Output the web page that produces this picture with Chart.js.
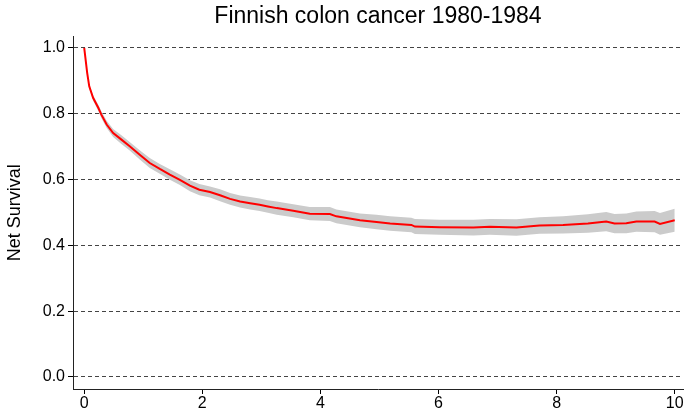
<!DOCTYPE html>
<html>
<head>
<meta charset="utf-8">
<script src="https://cdn.jsdelivr.net/npm/chart.js@4.4.1/dist/chart.umd.min.js"></script>
<style>
  html, body { margin: 0; padding: 0; background: #fff; }
  #wrap { width: 685px; height: 411px; }
</style>
</head>
<body>
<div id="wrap"><canvas id="c" width="685" height="411"></canvas></div>
<script>
// Data
const timeYears = [0, 0.05, 0.085, 0.15, 0.24, 0.29, 0.38, 0.49, 0.63, 0.77, 0.94, 1.11, 1.28, 1.45, 1.62, 1.79, 1.95, 2.13, 2.30, 2.47, 2.64, 2.81, 2.97, 3.11, 3.26, 3.54, 3.82, 4.16, 4.27, 4.67, 4.95, 5.18, 5.54, 5.60, 6.02, 6.59, 6.87, 7.32, 7.71, 8.11, 8.53, 8.84, 8.98, 9.18, 9.35, 9.66, 9.75, 10.0];
const netSurvival = [1.000, 0.924, 0.883, 0.848, 0.817, 0.797, 0.767, 0.741, 0.721, 0.701, 0.675, 0.650, 0.632, 0.615, 0.599, 0.581, 0.569, 0.562, 0.552, 0.541, 0.533, 0.528, 0.523, 0.518, 0.513, 0.505, 0.496, 0.495, 0.488, 0.476, 0.471, 0.466, 0.462, 0.457, 0.455, 0.454, 0.456, 0.454, 0.460, 0.462, 0.466, 0.472, 0.466, 0.467, 0.472, 0.472, 0.465, 0.476];
const lowerCI = [1.000, 0.920, 0.877, 0.840, 0.808, 0.787, 0.756, 0.729, 0.708, 0.688, 0.661, 0.635, 0.617, 0.599, 0.583, 0.564, 0.552, 0.545, 0.534, 0.523, 0.515, 0.509, 0.504, 0.499, 0.493, 0.485, 0.476, 0.474, 0.467, 0.455, 0.449, 0.444, 0.440, 0.434, 0.432, 0.430, 0.432, 0.429, 0.435, 0.436, 0.438, 0.443, 0.437, 0.437, 0.441, 0.440, 0.432, 0.441];
const upperCI = [1.000, 0.928, 0.889, 0.856, 0.826, 0.807, 0.778, 0.753, 0.734, 0.714, 0.689, 0.665, 0.647, 0.631, 0.615, 0.598, 0.586, 0.579, 0.570, 0.559, 0.551, 0.547, 0.542, 0.537, 0.533, 0.525, 0.516, 0.516, 0.509, 0.497, 0.493, 0.488, 0.484, 0.480, 0.478, 0.478, 0.480, 0.479, 0.485, 0.488, 0.494, 0.501, 0.495, 0.497, 0.503, 0.504, 0.498, 0.511];
const xTickValues = [0, 2, 4, 6, 8, 10];
const yTickValues = [0, 0.2, 0.4, 0.6, 0.8, 1.0];
const chartTitle = 'Finnish colon cancer 1980-1984';
const yAxisTitle = 'Net Survival';

const toPts = arr => arr.map((v, i) => ({ x: timeYears[i], y: v }));
const FONT = "'Liberation Sans', Arial, Helvetica, sans-serif";

new Chart(document.getElementById('c'), {
  type: 'line',
  data: {
    datasets: [
      { label: 'Net survival', data: toPts(netSurvival), borderColor: '#ff0000', borderWidth: 2, pointRadius: 0, tension: 0, fill: false },
      { label: 'Lower', data: toPts(lowerCI), borderWidth: 0, borderColor: 'rgba(0,0,0,0)', pointRadius: 0, tension: 0, fill: false },
      { label: 'Upper', data: toPts(upperCI), borderWidth: 0, borderColor: 'rgba(0,0,0,0)', backgroundColor: '#cbcbcb', pointRadius: 0, tension: 0, fill: 1 }
    ]
  },
  options: {
    responsive: false,
    animation: false,
    layout: { padding: { left: 0, right: 2, top: 0, bottom: 0 } },
    plugins: {
      legend: { display: false },
      tooltip: { enabled: false },
      title: {
        display: true, text: chartTitle, fullSize: false, color: '#000',
        font: { family: FONT, size: 23, weight: 'normal' },
        padding: { top: 3, bottom: 6 }
      }
    },
    scales: {
      x: {
        type: 'linear', min: -0.19, max: 10.14,
        afterBuildTicks: s => { s.ticks = xTickValues.map(v => ({ value: v })); },
        afterFit: s => { s.height = 22; },
        ticks: { color: '#000', font: { family: FONT, size: 16 }, padding: 0, maxRotation: 0, callback: v => String(v) },
        grid: { drawOnChartArea: false, drawTicks: true, tickLength: 5, tickColor: '#000' },
        border: { color: '#222', width: 1 }
      },
      y: {
        type: 'linear', min: -0.0365, max: 1.034,
        afterBuildTicks: s => { s.ticks = yTickValues.map(v => ({ value: v })); },
        afterFit: s => { s.width = 73; },
        ticks: { color: '#000', font: { family: FONT, size: 16 }, padding: 3, callback: v => Number(v).toFixed(1) },
        grid: { color: '#444', lineWidth: 1, tickLength: 5, tickColor: '#000', tickBorderDash: [] },
        border: { color: '#222', width: 1, dash: [4, 3] },
        title: { display: true, text: yAxisTitle, color: '#000', font: { family: FONT, size: 18 }, padding: { top: 4, bottom: 0 } }
      }
    }
  }
});
</script>
</body>
</html>
